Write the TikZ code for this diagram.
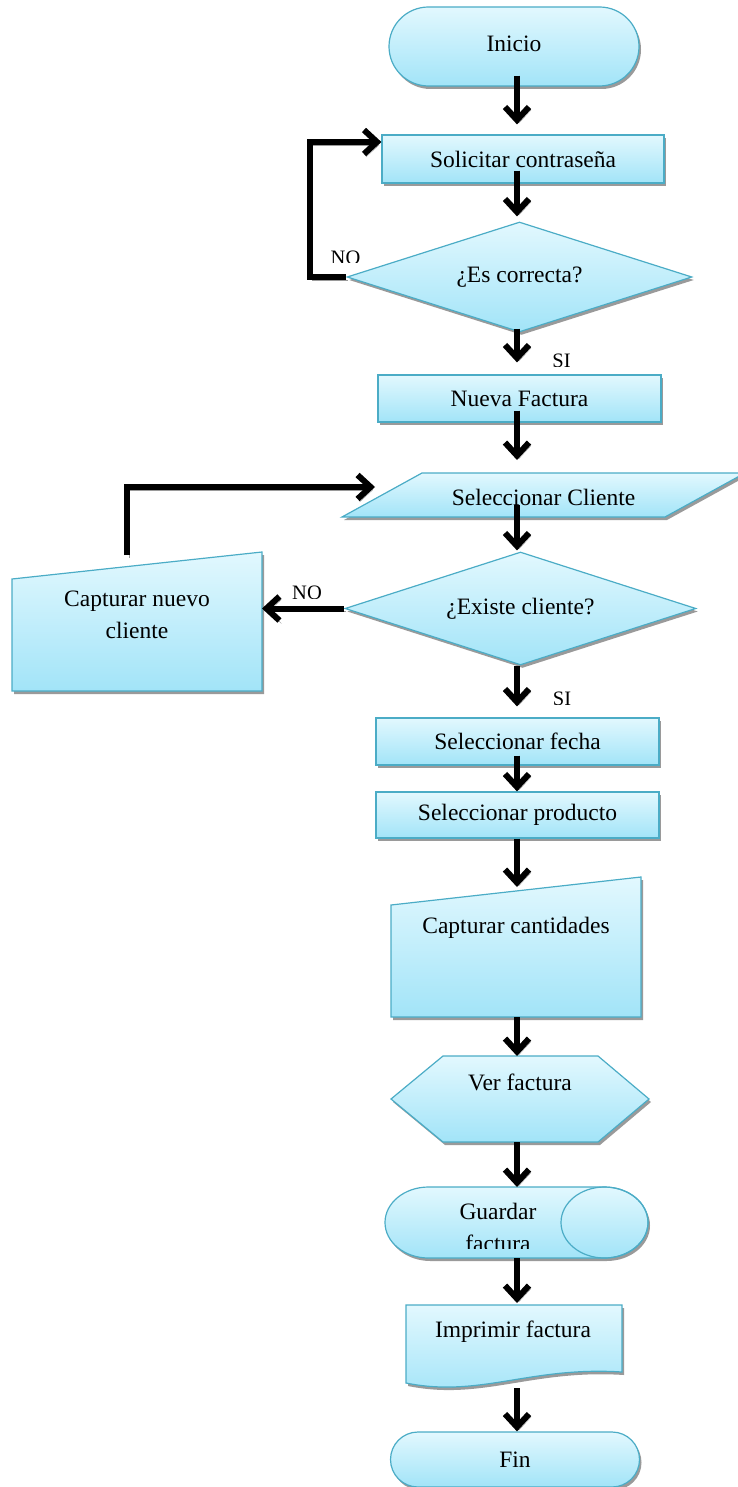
\documentclass[tikz,border=0pt]{standalone}
\usepackage{fontspec}
\setmainfont{Liberation Serif}
\usetikzlibrary{arrows.meta,shapes.geometric,shapes.misc,shadows,calc}

\definecolor{edgeblue}{HTML}{4BACC6}
\definecolor{filltop}{HTML}{E2F8FE}
\definecolor{fillbot}{HTML}{A2E4F8}
\definecolor{shadegray}{HTML}{9A9A9A}

\tikzset{
  shp/.style={draw=edgeblue, line width=1.2pt, top color=filltop, bottom color=fillbot,
    drop shadow={shadow xshift=2pt, shadow yshift=-3pt, fill=shadegray, opacity=1}},
  txt/.style={font=\fontsize{23.5}{32}\selectfont, inner sep=0pt, align=center},
  lbl/.style={font=\fontsize{20.5}{24}\selectfont, inner sep=0pt, anchor=base},
  frame/.style={inner sep=0pt, outer sep=0pt},
  terminal/.style={shp, rounded rectangle, txt},
  process/.style={shp, rectangle, txt},
  decision/.style={shp, diamond, aspect=3, txt},
  flow/.style={line width=6pt, -{Straight Barb[length=13pt,width=24pt]},
    preaction={draw=shadegray, transform canvas={shift={(2pt,-3pt)}}}},
}

\begin{document}
\begin{tikzpicture}[x=1pt,y=-1pt]
\useasboundingbox (0,0) rectangle (738,1487);
\coordinate (spine) at (517,0);

% ---- main column ----
\node[terminal, minimum width=250pt, minimum height=79pt, text depth=6pt] (ini) at (514,46.5) {Inicio};
\node[process, minimum width=282pt, minimum height=48pt] (sol) at (523,159) {Solicitar contraseña};
\node[decision, minimum width=345pt, minimum height=110pt] (d1) at (519.5,277) {¿Es correcta?};
\node[process, minimum width=283pt, minimum height=47pt] (nueva) at (519.5,398.5) {Nueva Factura};

% input/output parallelogram
\node[frame, minimum width=403pt, minimum height=44pt] (selc) at (543.5,495) {};
\path[shp] ($(selc.north west)+(80,0)$) -- (selc.north east)
  -- ($(selc.south east)+(-80,0)$) -- (selc.south west) -- cycle;
\node[txt] (selct) at (543.5,497) {Seleccionar Cliente};

\node[decision, minimum width=351pt, minimum height=113pt] (d2) at (520.5,608.5) {¿Existe cliente?};

% manual input: new client
\node[frame, minimum width=250pt, minimum height=139pt] (cap) at (137,621.5) {};
\path[shp] (cap.south west) -- (cap.south east) -- (cap.north east)
  -- ($(cap.north west)+(0,27)$) -- cycle;
\node[txt] (capt) at (137,615) {Capturar nuevo\\cliente};

\node[process, minimum width=283pt, minimum height=47pt] (fecha) at (517.5,741.5) {Seleccionar fecha};
\node[process, minimum width=283pt, minimum height=46pt] (prod) at (517.5,815) {Seleccionar producto};

% manual input: quantities
\node[frame, minimum width=250pt, minimum height=140pt] (cant) at (516,947) {};
\path[shp] (cant.south west) -- (cant.south east) -- (cant.north east)
  -- ($(cant.north west)+(0,28)$) -- cycle;
\node[txt] (cantt) at (516,927.5) {Capturar cantidades};

% display hexagon
\node[frame, minimum width=258pt, minimum height=86pt] (ver) at (520,1099) {};
\path[shp] ($(ver.north west)+(52,0)$) -- ($(ver.north east)+(-51,0)$) -- (ver.east)
  -- ($(ver.south east)+(-51,0)$) -- ($(ver.south west)+(52,0)$) -- (ver.west) -- cycle;
\node[txt] (vert) at (520,1082) {Ver factura};

% stored data cylinder
\node[frame, minimum width=263pt, minimum height=71pt] (guard) at (516.5,1222.5) {};
\path[shp] (428.5,1187) -- (604.5,1187)
  arc[start angle=-90, end angle=90, x radius=43.5, y radius=35.5]
  -- (428.5,1258)
  arc[start angle=90, end angle=270, x radius=43.5, y radius=35.5] -- cycle;
\draw[edgeblue, line width=1.2pt] (604.5,1222.5) ellipse[x radius=43.5, y radius=35.5];
\begin{scope}
  \clip (420,1190) rectangle (580,1248);
  \node[txt] (guardt) at (498,1227) {Guardar\\factura};
\end{scope}

% document
\node[frame, minimum width=216pt, minimum height=78pt] (imp) at (514,1344) {};
\path[shp] (imp.north west) -- (imp.north east) -- ($(imp.south east)+(0,-11)$)
  .. controls (530,1366) and (480,1398) .. (imp.south west) -- cycle;
\node[txt] (impt) at (513,1332) {Imprimir factura};

\node[terminal, minimum width=249pt, minimum height=55pt] (fin) at (515,1459.5) {Fin};

% ---- labels ----
\begin{scope}
  \clip (320,240) rectangle (372,263);
  \node[lbl] (no1) at (345.5,264.6) {NO};
\end{scope}
\begin{scope}
  \clip (540,340) rectangle (590,366);
  \node[lbl] (si1) at (561.5,367.6) {SI};
\end{scope}
\begin{scope}
  \clip (280,575) rectangle (335,598.5);
  \node[lbl] (no2) at (307,599.6) {NO};
\end{scope}
\begin{scope}
  \clip (540,680) rectangle (590,704.5);
  \node[lbl] (si2) at (562,705.6) {SI};
\end{scope}

% ---- connectors ----
\draw[flow, shorten <=-11pt, shorten >=10pt] (ini.south -| spine) -- (sol.north -| spine);
\draw[flow, shorten <=-13pt, shorten >=5pt] (sol.south -| spine) -- (d1.north -| spine);
\draw[flow, shorten <=-4pt, shorten >=12pt] (d1.south -| spine) -- (nueva.north -| spine);
\draw[flow, shorten <=-12pt, shorten >=13pt] (nueva.south -| spine) -- (selc.north -| spine);
\draw[flow, shorten <=-12pt, shorten >=1pt] (selc.south -| spine) -- (d2.north -| spine);
\draw[flow, shorten >=11pt] (d2.south -| spine) -- (fecha.north -| spine);
\draw[flow, shorten <=-10pt] (fecha.south -| spine) -- (prod.north -| spine);
\draw[flow, shorten >=-10pt] (prod.south -| spine) -- (cant.north -| spine);
\draw[flow] (cant.south -| spine) -- (ver.north -| spine);
\draw[flow] (ver.south -| spine) -- (guard.north -| spine);
\draw[flow, shorten >=2pt] (guard.south -| spine) -- (imp.north -| spine);
\draw[flow, shorten <=5pt] (imp.south -| spine) -- (fin.north -| spine);

% NO branches and return paths
\draw[flow] (d1.west) -- ++(-36,0) |- ([yshift=17pt]sol.west);
\draw[flow] (d2.west) -- (cap.east |- d2.west);
\draw[flow] ([xshift=-10pt,yshift=-3pt]cap.north) |- ([xshift=33pt,yshift=8pt]selc.west);
\end{tikzpicture}
\end{document}
